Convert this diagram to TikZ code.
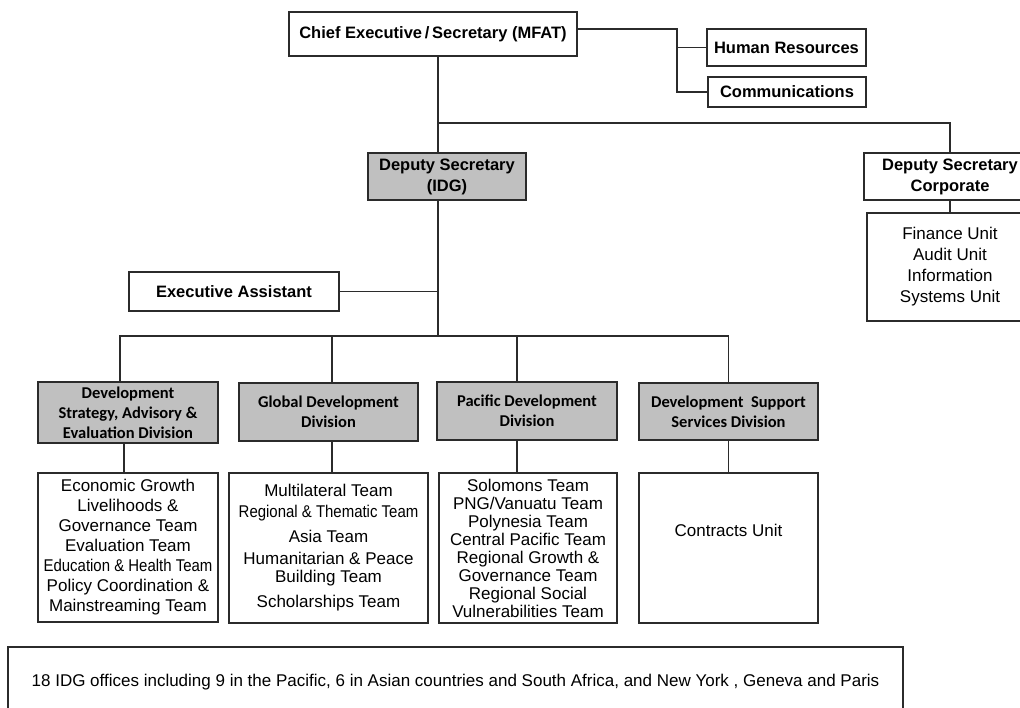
\documentclass[tikz,border=0pt]{standalone}
\usepackage{fontspec}
\setmainfont{Liberation Sans}
\newfontfamily\calibri{Carlito}
\newfontfamily\narrowfont{Liberation Sans}[FakeStretch=0.88]
\usepackage{tikz}

\definecolor{divgray}{HTML}{C0C0C0}
\definecolor{rulegray}{HTML}{2B2B2B}

\begin{document}
\begin{tikzpicture}[x=1pt,y=-1pt]
  \useasboundingbox (0,0) rectangle (1020,708);

  \tikzstyle{box}=[draw=rulegray, line width=1.1pt, fill=white, align=center, inner sep=1pt]
  \tikzstyle{head}=[box, font=\fontsize{16.5}{21}\selectfont\bfseries]
  \tikzstyle{division}=[box, fill=divgray, font=\calibri\fontsize{16.5}{20}\selectfont\bfseries]
  \tikzstyle{teams}=[box, font=\fontsize{17}{20}\selectfont]

  % top of the chart
  \node[head, minimum width=288, minimum height=44] (chief) at (433,34) {Chief Executive\,/\,Secretary (MFAT)};
  \node[head, minimum width=159, minimum height=37] (hr) at (786.5,47.5) {Human Resources};
  \node[head, minimum width=158, minimum height=30] (comms) at (787,92) {Communications};
  \node[head, fill=divgray, minimum width=158, minimum height=47] (dsidg) at (447,176.5) {Deputy Secretary\\(IDG)};
  \node[head, minimum width=172, minimum height=47] (dscorp) at (950,176.5) {Deputy Secretary\\Corporate};
  \node[teams, font=\fontsize{17}{21}\selectfont, minimum width=166, minimum height=108] (corpunits) at (950,267) {Finance Unit\\Audit Unit\\Information\\Systems Unit};
  \node[head, minimum width=210, minimum height=39] (execasst) at (234,291.5) {Executive Assistant};

  % divisions
  \node[division, minimum width=180, minimum height=61] (dsae) at (128,412.5) {Development\\Strategy, Advisory \&\\Evaluation Division};
  \node[division, minimum width=179, minimum height=58] (global) at (328.5,412) {Global Development\\Division};
  \node[division, minimum width=180, minimum height=58] (pacific) at (527,411) {Pacific Development\\Division};
  \node[division, minimum width=179, minimum height=57] (support) at (728.5,411.5) {Development\ \ Support\\Services Division};

  % teams
  \node[teams, minimum width=180, minimum height=149] (dsaeteams) at (128,547.5) {Economic Growth\\Livelihoods \&\\Governance Team\\Evaluation Team\\{\narrowfont Education \& Health Team}\\Policy Coordination \&\\Mainstreaming Team};
  \node[teams, font=\fontsize{17}{18}\selectfont, minimum width=199, minimum height=150] (globalteams) at (328.5,548) {Multilateral Team\\[3pt]{\narrowfont Regional \& Thematic Team}\\[7pt]Asia Team\\[4pt]Humanitarian \& Peace\\Building Team\\[7pt]Scholarships Team};
  \node[teams, font=\fontsize{17}{18}\selectfont, minimum width=178, minimum height=150] (pacificteams) at (528,548) {Solomons Team\\PNG/Vanuatu Team\\Polynesia Team\\Central Pacific Team\\Regional Growth \&\\Governance Team\\Regional Social\\Vulnerabilities Team};
  \node[teams, minimum width=179, minimum height=150] (supportteams) at (728.5,548) {Contracts Unit\\[16pt]\mbox{}};

  \node[teams, font=\fontsize{17}{20}\selectfont, minimum width=895, minimum height=70] (offices) at (455.5,682) {18 IDG offices including 9 in the Pacific, 6 in Asian countries and South Africa, and New York , Geneva and Paris};

  \coordinate (trunk) at (438,123);
  \coordinate (divbar) at (438,336);
  \coordinate (staff) at (677,29);

  \begin{scope}[color=rulegray, line width=1.1pt]
    \draw (chief.south -| trunk) -- (dsidg.north -| trunk);
    \draw (trunk) -| (dscorp.north);
    \draw (dscorp.south) -- (corpunits.north);
    \draw (chief.east |- staff) -- (staff) |- (comms.west);
    \draw (staff |- hr.west) -- (hr.west);
    \draw (execasst.east) -- (execasst.east -| trunk);
    \draw (dsidg.south -| trunk) -- (divbar);
    \draw ([xshift=-8]dsae.north) |- (divbar) -| (support.north);
    \draw ([xshift=3.5]global.north) -- ([xshift=3.5]global.north |- divbar);
    \draw ([xshift=-10]pacific.north) -- ([xshift=-10]pacific.north |- divbar);
    \draw ([xshift=-4]dsae.south) -- ([xshift=-4]dsaeteams.north);
    \draw ([xshift=3.5]global.south) -- ([xshift=3.5]global.south |- globalteams.north);
    \draw ([xshift=-10]pacific.south) -- ([xshift=-10]pacific.south |- pacificteams.north);
    \draw (support.south) -- (supportteams.north);
  \end{scope}

\end{tikzpicture}
\end{document}
